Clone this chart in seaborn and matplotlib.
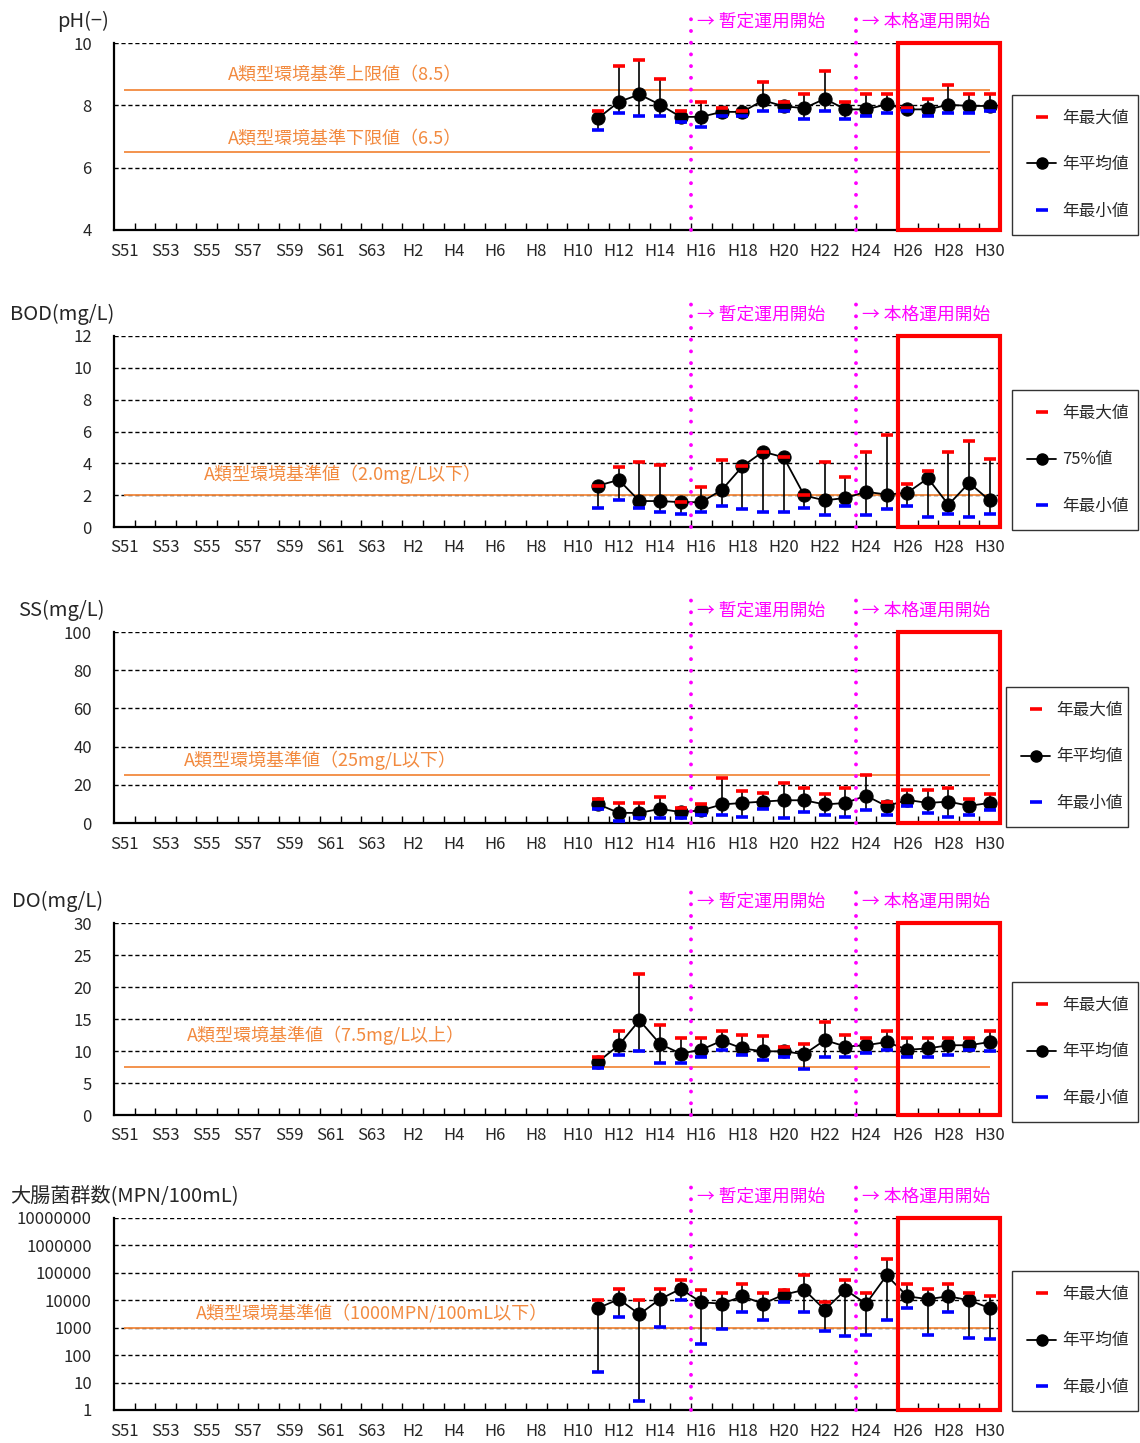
import matplotlib
matplotlib.use("Agg")
import matplotlib.pyplot as plt
import matplotlib.transforms as mtransforms
from matplotlib.lines import Line2D
from matplotlib.patches import Rectangle
import seaborn as sns
import pandas as pd

# x categories (fiscal years) and observed years
years = [f"S{n}" for n in range(51, 64)] + [f"H{n}" for n in range(1, 31)]
obs_years = [f"H{n}" for n in range(11, 31)]
tick_years = years[::2]

# pH
ph_max = [7.83, 9.26, 9.45, 8.83, 7.83, 8.12, 7.93, 7.83, 8.74, 8.12,
          8.36, 9.11, 8.12, 8.36, 8.36, 7.93, 8.21, 8.65, 8.36, 8.36]
ph_mean = [7.59, 8.11, 8.35, 8.02, 7.63, 7.63, 7.79, 7.79, 8.16, 7.97,
           7.91, 8.21, 7.87, 7.87, 8.03, 7.87, 7.87, 8.02, 7.98, 7.98]
ph_min = [7.22, 7.74, 7.65, 7.65, 7.45, 7.30, 7.65, 7.65, 7.83, 7.83,
          7.55, 7.83, 7.55, 7.65, 7.74, 7.83, 7.65, 7.74, 7.74, 7.83]

# BOD (75% value)
bod_max = [2.6, 3.8, 4.06, 3.9, 1.56, 2.52, 4.19, 3.81, 4.73, 4.38,
           1.98, 4.06, 3.17, 4.73, 5.75, 2.69, 3.54, 4.73, 5.38, 4.27]
bod_75 = [2.6, 2.96, 1.63, 1.63, 1.56, 1.56, 2.33, 3.81, 4.73, 4.38,
          1.98, 1.67, 1.83, 2.21, 2.04, 2.15, 3.06, 1.4, 2.77, 1.67]
bod_min = [1.2, 1.67, 1.21, 0.94, 0.83, 0.94, 1.29, 1.1, 0.94, 0.94,
           1.21, 0.75, 1.29, 0.75, 1.1, 1.29, 0.65, 0.83, 0.65, 0.83]

# SS
ss_max = [12.8, 10.5, 10.5, 13.6, 8.1, 9.7, 23.8, 16.6, 15.7, 21.2,
          18.1, 15.0, 18.1, 25.2, 11.2, 17.4, 17.4, 18.1, 12.8, 15.2]
ss_mean = [9.8, 5.3, 5.3, 7.4, 5.7, 6.6, 9.7, 10.5, 11.2, 11.9,
           11.9, 9.7, 10.5, 14.3, 8.8, 12.1, 10.5, 11.2, 9.0, 10.5]
ss_min = [7.2, 1.2, 2.6, 2.6, 2.6, 4.3, 4.3, 3.4, 7.2, 2.6,
          5.9, 4.3, 3.4, 6.6, 4.3, 9.0, 5.0, 3.4, 4.3, 6.6]

# DO
do_max = [9.0, 13.2, 22.0, 14.1, 12.0, 12.0, 13.2, 12.5, 12.3, 10.7,
          11.1, 14.6, 12.5, 12.0, 13.2, 12.0, 12.0, 12.0, 12.0, 13.2]
do_mean = [8.34, 10.9, 14.8, 11.1, 9.6, 10.2, 11.6, 10.4, 9.95, 9.95,
           9.5, 11.7, 10.7, 10.9, 11.4, 10.2, 10.4, 10.9, 10.9, 11.4]
do_min = [7.3, 9.3, 9.95, 8.1, 8.1, 9.1, 10.2, 9.3, 8.6, 9.1,
          7.2, 9.1, 9.1, 9.7, 10.2, 9.1, 9.1, 9.3, 10.2, 9.95]

# coliform group count
ec_max = [10000, 26000, 10000, 26000, 56000, 24000, 18000, 39000, 18000, 24000,
          81000, 8500, 56000, 18000, 320000, 39000, 26000, 39000, 18000, 14000]
ec_mean = [5200, 11000, 3100, 11000, 26000, 8500, 7500, 14000, 7500, 16000,
           24000, 4500, 24000, 7500, 81000, 14000, 11000, 14000, 10000, 5200]
ec_min = [24, 2400, 2.2, 1100, 10000, 260, 890, 3600, 1900, 8500,
          3600, 790, 480, 550, 1900, 5200, 550, 3600, 430, 380]

sns.set_theme(style="white")
plt.rcParams['font.family'] = ['Noto Sans CJK JP', 'DejaVu Sans']

ORANGE = "#F28A3F"
MAGENTA = "#FF00FF"
W, H = 1140, 1443

fig = plt.figure(figsize=(11.4, 14.43), dpi=100)


def fx(px):
    return px / W


def fy(py):
    return 1 - py / H


def draw_panel(top, bottom, vmax, vmid, vmin, ylim, yticks, title, title_x,
               std_lines, mid_label, legend_box, log=False, right_spine=False):
    ax = fig.add_axes([fx(114), fy(bottom), fx(1000) - fx(114), (bottom - top) / H])
    pos = [years.index(y) for y in obs_years]
    df = pd.DataFrame({"pos": pos, "max": vmax, "mid": vmid, "min": vmin})

    if log:
        ax.set_yscale("log")
    ax.set_xlim(-0.5, len(years) - 0.5)
    ax.set_ylim(*ylim)

    # dashed grid
    for t in yticks:
        ax.axhline(t, color="black", lw=1, ls=(0, (3, 2)), zorder=1)

    # environmental standard lines + labels
    for val, label, lx, ly in std_lines:
        ax.hlines(val, 0, len(years) - 1, color=ORANGE, lw=1.3, zorder=2)
        ax.text(lx, ly, label, color=ORANGE, fontsize=13, ha="center", va="center")

    # range bars
    ax.vlines(df["pos"], df["min"], df["max"], color="black", lw=1.2, zorder=3)
    sns.lineplot(data=df, x="pos", y="mid", ax=ax, color="black", lw=1.3,
                 marker="o", markersize=9.5, markeredgecolor="black", zorder=4)
    ax.plot(df["pos"], df["max"], ls="none", marker="_", markersize=8.5, mew=2.6,
            color="red", zorder=5)
    ax.plot(df["pos"], df["min"], ls="none", marker="_", markersize=8.5, mew=2.6,
            color="blue", zorder=5)

    # operation start markers
    trans = mtransforms.blended_transform_factory(ax.transData, ax.transAxes)
    span = (bottom - top)
    for yr, txt in [("H16", "→ 暫定運用開始"), ("H24", "→ 本格運用開始")]:
        xl = years.index(yr) - 0.5
        ax.plot([xl, xl], [0, 1 + 33 / span], transform=trans, color=MAGENTA, lw=2.8,
                ls=(0, (0.01, 3.0)), dash_capstyle="round", clip_on=False, zorder=6)
        ax.text(xl + 0.3, 1 + 21 / span, txt, transform=trans, color=MAGENTA,
                fontsize=12.8, ha="left", va="center")

    # red box around recent years
    x0 = years.index("H26") - 0.47
    x1 = years.index("H30") + 0.52
    ax.add_patch(Rectangle((x0, 0), x1 - x0, 1, transform=trans, fill=False,
                           edgecolor="red", lw=3, clip_on=False, zorder=7))

    # axes styling
    for s in ["top", "right"]:
        ax.spines[s].set_visible(False)
    if right_spine:
        ax.spines["right"].set_visible(True)
        ax.spines["right"].set_linewidth(1)
        ax.spines["right"].set_color("black")
    for s in ["left", "bottom"]:
        ax.spines[s].set_linewidth(1.6)
        ax.spines[s].set_color("black")

    ax.set_yticks(yticks)
    if log:
        ax.set_yticklabels([str(int(t)) for t in yticks])
        ax.minorticks_off()
    else:
        ax.set_yticklabels([str(t) for t in yticks])
    ax.tick_params(axis="y", length=0, pad=16, labelsize=12)

    ax.set_xticks([i - 0.5 for i in range(1, len(years))])
    ax.set_xticklabels([])
    ax.set_xticks([years.index(y) for y in tick_years], minor=True)
    ax.set_xticklabels(tick_years, minor=True)
    ax.tick_params(axis="x", which="major", direction="in", length=5, width=1,
                   color="black", bottom=True)
    ax.tick_params(axis="x", which="minor", length=0, pad=9, labelsize=12)
    ax.set_xlabel("")
    ax.set_ylabel("")

    fig.text(fx(title_x), fy(top - 22), title, fontsize=14.5, ha="left", va="center")

    handles = [
        Line2D([], [], ls="none", marker="_", markersize=9, mew=2.6, color="red"),
        Line2D([], [], color="black", lw=1.3, marker="o", markersize=8),
        Line2D([], [], ls="none", marker="_", markersize=9, mew=2.6, color="blue"),
    ]
    lx0, ly0, lx1, ly1 = legend_box
    leg = ax.legend(handles, ["年最大値", mid_label, "年最小値"], loc="upper left",
                    bbox_to_anchor=(fx(lx0), fy(ly1), fx(lx1) - fx(lx0), (ly1 - ly0) / H),
                    bbox_transform=fig.transFigure, mode="expand", borderaxespad=0,
                    fontsize=12, labelspacing=1.76, borderpad=0.9, handlelength=1.75,
                    handletextpad=0.35, frameon=True, fancybox=False, edgecolor="black")
    leg.get_frame().set_linewidth(1)
    return ax


draw_panel(43, 230, ph_max, ph_mean, ph_min, (4, 10), [4, 6, 8, 10], "pH(−)", 57,
           [(8.5, "A類型環境基準上限値（8.5）", 10.7, 8.97),
            (6.5, "A類型環境基準下限値（6.5）", 10.7, 6.92)],
           "年平均値", (1012, 95, 1138, 233))

draw_panel(336, 527, bod_max, bod_75, bod_min, (0, 12), [0, 2, 4, 6, 8, 10, 12],
           "BOD(mg/L)", 10,
           [(2.0, "A類型環境基準値（2.0mg/L以下）", 10.6, 3.3)],
           "75%値", (1012, 390, 1138, 525))

draw_panel(632, 823, ss_max, ss_mean, ss_min, (0, 100), [0, 20, 40, 60, 80, 100],
           "SS(mg/L)", 18,
           [(25, "A類型環境基準値（25mg/L以下）", 9.5, 33)],
           "年平均値", (1006, 687, 1128, 823), right_spine=True)

draw_panel(923, 1115, do_max, do_mean, do_min, (0, 30), [0, 5, 10, 15, 20, 25, 30],
           "DO(mg/L)", 12,
           [(7.5, "A類型環境基準値（7.5mg/L以上）", 9.8, 12.5)],
           "年平均値", (1012, 982, 1138, 1118))

draw_panel(1218, 1410, ec_max, ec_mean, ec_min, (1, 1e7),
           [1, 10, 100, 1000, 10000, 100000, 1000000, 10000000],
           "大腸菌群数(MPN/100mL)", 10,
           [(1000, "A類型環境基準値（1000MPN/100mL以下）", 12.0, 3400)],
           "年平均値", (1012, 1271, 1138, 1408), log=True)

fig.savefig("out.png", dpi=100, facecolor="white")
